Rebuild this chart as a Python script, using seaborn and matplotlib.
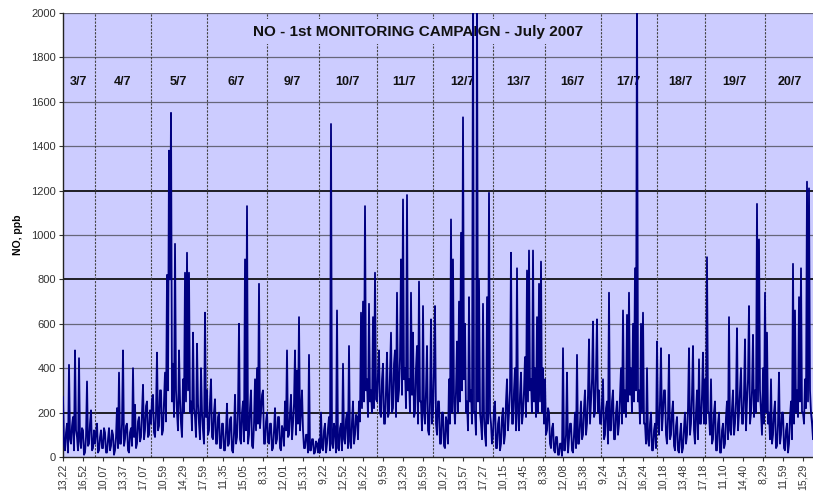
import matplotlib
matplotlib.use("Agg")
import matplotlib.pyplot as plt
import seaborn as sns
import numpy as np
import pandas as pd

# NO readings (ppb), one list per monitoring day
day_3 = [270, 60, 30, 110, 150, 20, 415, 80, 60, 140, 180, 30, 480, 120, 90, 30,
         445, 70, 40, 130, 120, 10, 20, 90, 340, 50, 60, 150, 210, 30, 40, 120]
day_4 = [60, 110, 150, 20, 30, 90, 120, 40, 40, 130, 110, 20, 20, 80, 130, 30,
         50, 120, 100, 10, 30, 90, 220, 40, 380, 60, 60, 150, 480, 50, 80, 140,
         150, 30, 20, 110, 130, 50, 400, 90, 235, 40, 60, 160, 180, 70, 90, 200,
         325, 80, 120, 230, 250, 90, 100, 210]
day_5 = [150, 260, 280, 110, 90, 200, 470, 120, 140, 300, 300, 100, 120, 250,
         380, 160, 820, 300, 1380, 800, 1550, 250, 420, 180, 960, 300, 200, 120,
         480, 260, 150, 90, 350, 200, 830, 250, 920, 300, 830, 200, 250, 120,
         560, 220, 180, 90, 510, 240, 150, 80, 400, 200, 120, 60, 650, 180]
day_6 = [300, 100, 120, 250, 350, 90, 80, 200, 260, 60, 60, 180, 200, 40, 40,
         150, 150, 30, 30, 120, 240, 50, 60, 170, 180, 30, 20, 110, 280, 60, 90,
         210, 600, 80, 60, 200, 250, 70, 890, 120, 1130, 60, 100, 220, 300, 50,
         40, 150, 350, 120, 400, 150, 780, 130, 200, 280, 300, 60, 60, 160]
day_9 = [200, 70, 60, 150, 150, 30, 40, 120, 220, 60, 80, 180, 180, 40, 30, 140,
         120, 50, 250, 120, 480, 90, 100, 200, 280, 80, 150, 240, 480, 100, 390,
         150, 630, 120, 200, 300, 120, 40, 40, 100, 100, 20, 460, 30, 30, 80, 80,
         15, 20, 70, 60, 20]
day_10 = [80, 20, 200, 40, 30, 120, 150, 20, 60, 130, 180, 30, 1500, 60, 40, 150,
          120, 20, 660, 40, 30, 130, 150, 30, 420, 80, 60, 170, 200, 40, 500, 70,
          40, 160, 250, 60, 100, 190, 180, 80, 250, 160, 650, 220, 700, 250, 1130,
          300, 350, 180, 690, 250, 300, 200, 630, 220, 830, 260]
day_11 = [250, 380, 480, 200, 180, 350, 420, 150, 150, 300, 470, 180, 200, 380,
          560, 200, 220, 420, 480, 180, 740, 250, 300, 450, 890, 280, 1160, 350,
          400, 220, 1180, 300, 350, 200, 740, 280, 560, 180, 200, 400, 500, 150,
          790, 250, 250, 120, 680, 200, 150, 300, 500, 120, 100, 250, 620, 150]
day_12 = [200, 400, 680, 150, 100, 250, 250, 60, 60, 200, 200, 50, 40, 180, 150,
          60, 350, 150, 1070, 200, 890, 250, 150, 300, 520, 200, 700, 250, 1010,
          300, 1530, 350, 600, 200, 250, 120, 720, 250, 300, 150, 2100, 200, 200,
          100, 2100, 250, 800, 200, 150, 80, 690, 180, 100, 50, 720, 150, 1190,
          200, 150, 60]
day_13 = [100, 220, 250, 40, 40, 150, 180, 30, 60, 180, 220, 60, 100, 250, 350,
          120, 200, 300, 920, 150, 150, 300, 400, 120, 850, 200, 120, 280, 380,
          150, 200, 300, 450, 180, 840, 250, 930, 300, 350, 200, 930, 250, 400,
          180, 630, 200, 780, 250, 880, 200, 400, 150]
day_16 = [350, 100, 120, 220, 200, 60, 40, 130, 150, 30, 20, 90, 90, 10, 10, 60,
          60, 5, 490, 30, 30, 100, 380, 20, 80, 150, 150, 30, 20, 100, 200, 40,
          460, 60, 60, 160, 250, 80, 100, 220, 300, 100, 150, 280, 530, 150, 250,
          350, 610, 180, 200, 380, 620, 200, 300, 150]
day_17 = [150, 250, 350, 80, 100, 220, 250, 60, 740, 120, 120, 250, 300, 80, 80,
          200, 250, 100, 150, 280, 400, 150, 660, 200, 300, 180, 640, 250, 740,
          280, 400, 200, 600, 250, 850, 300, 2100, 250, 300, 150, 600, 200, 650,
          150, 150, 60, 400, 80, 50, 150, 200, 30, 30, 120, 150, 40]
day_18 = [520, 150, 100, 250, 490, 120, 200, 300, 300, 100, 60, 180, 460, 80,
          100, 200, 250, 50, 30, 140, 180, 30, 20, 100, 150, 20, 40, 130, 200, 60,
          100, 220, 490, 100, 150, 280, 500, 120, 60, 200, 300, 80, 440, 150, 150,
          280, 470, 150]
day_19 = [350, 150, 900, 200, 200, 100, 350, 60, 80, 200, 250, 30, 30, 150, 200,
          20, 20, 120, 150, 40, 60, 180, 250, 80, 630, 120, 100, 220, 300, 100,
          150, 250, 580, 120, 200, 300, 400, 150, 150, 280, 530, 120, 250, 350,
          680, 150, 200, 300, 550, 180, 300, 200, 1140, 250, 980, 300, 200, 100,
          400, 150]
day_20 = [740, 200, 560, 150, 200, 80, 350, 60, 100, 200, 250, 40, 50, 150, 380,
          60, 100, 200, 200, 40, 30, 120, 150, 20, 60, 180, 250, 80, 870, 150,
          660, 200, 300, 180, 720, 250, 850, 200, 200, 150, 350, 220, 1240, 250,
          1210, 300, 200, 150, 80, 220]

days = ["3/7", "4/7", "5/7", "6/7", "9/7", "10/7", "11/7", "12/7", "13/7",
        "16/7", "17/7", "18/7", "19/7", "20/7"]
day_series = [day_3, day_4, day_5, day_6, day_9, day_10, day_11, day_12, day_13,
              day_16, day_17, day_18, day_19, day_20]

time_labels = ["13,22", "16,52", "10,07", "13,37", "17,07", "10,59", "14,29",
               "17,59", "11,35", "15,05", "8,31", "12,01", "15,31", "9,22",
               "12,52", "16,22", "9,59", "13,29", "16,59", "10,27", "13,57",
               "17,27", "10,15", "13,45", "8,38", "12,08", "15,38", "9,24",
               "12,54", "16,24", "10,18", "13,48", "17,18", "11,10", "14,40",
               "8,29", "11,59", "15,29"]

values = np.concatenate(day_series)
df = pd.DataFrame({"t": np.arange(len(values)), "NO": values})

bg = "#ccccff"
navy = "#000080"

fig = plt.figure(figsize=(8.13, 4.95), dpi=100)
ax = fig.add_axes([0.0775, 0.0768, 0.9225, 0.897])
ax.set_facecolor(bg)

# horizontal grid
for v in range(200, 2001, 200):
    if v in (200, 800, 1200):
        ax.axhline(v, color="black", lw=1.2, zorder=1)
    else:
        ax.axhline(v, color="#66667a", lw=0.9, zorder=1)

# day separators and labels
starts = np.cumsum([0] + [len(d) for d in day_series])
for k, lab in enumerate(days):
    left = starts[k] - 0.5 if k > 0 else 0
    if k > 0:
        ax.axvline(left, color="#444444", lw=0.8, ls=(0, (2, 1.2)), zorder=1)
    right = min(starts[k + 1] - 0.5, len(values) - 1)
    ax.text((left + right) / 2, 1690, lab, ha="center", va="center",
            fontsize=9, fontweight="bold", color="#111111", zorder=3,
            family=["Liberation Sans", "DejaVu Sans"])

sns.lineplot(data=df, x="t", y="NO", ax=ax, color=navy, linewidth=1.3,
             estimator=None, sort=False, zorder=4)

ax.text(355, 1915, "NO - 1st MONITORING CAMPAIGN - July 2007", ha="center",
        va="center", fontsize=11, fontweight="bold", color="#111111",
        family=["Liberation Sans", "DejaVu Sans"], zorder=3,
        bbox=dict(facecolor=bg, edgecolor="none", pad=4))

ax.set_xlim(0, len(values) - 2)
ax.set_ylim(0, 2000)
ax.set_yticks(range(0, 2001, 200))
ax.set_yticklabels([str(v) for v in range(0, 2001, 200)], fontsize=8,
                   color="#333333", family="Liberation Sans")
ax.set_xticks(range(0, len(time_labels) * 20, 20))
ax.set_xticklabels(time_labels, rotation=90, fontsize=7.5, color="#333333",
                   family="Liberation Sans")
ax.tick_params(axis="both", length=3, width=0.8, color="#333333", pad=2)
ax.set_xlabel("")
ax.set_ylabel("NO, ppb", fontsize=7.5, fontweight="bold",
              family="Liberation Sans", labelpad=6)

for s in ["top", "right"]:
    ax.spines[s].set_visible(False)
for s in ["left", "bottom"]:
    ax.spines[s].set_color("#222222")
    ax.spines[s].set_linewidth(1)

fig.savefig("out.png", dpi=100, facecolor="white")
